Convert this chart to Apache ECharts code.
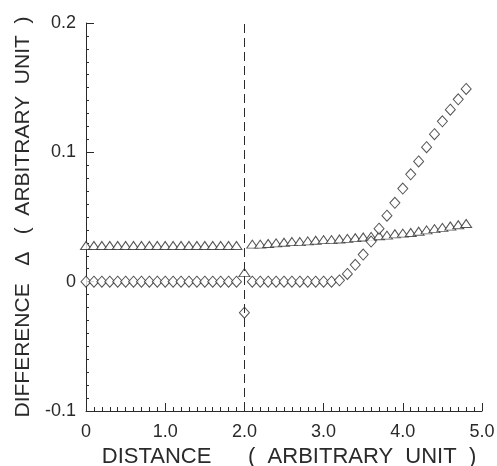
<!DOCTYPE html>
<html><head><meta charset="utf-8">
<script src="https://cdn.jsdelivr.net/npm/echarts@6/dist/echarts.min.js"></script>
<style>html,body{margin:0;padding:0;background:#fff}#c{width:497px;height:466px}</style>
</head><body><div id="c"></div>
<script>
const distance = [0,0.1,0.2,0.3,0.4,0.5,0.6,0.7,0.8,0.9,1.0,1.1,1.2,1.3,1.4,1.5,1.6,1.7,1.8,1.9,2.0,2.1,2.2,2.3,2.4,2.5,2.6,2.7,2.8,2.9,3.0,3.1,3.2,3.3,3.4,3.5,3.6,3.7,3.8,3.9,4.0,4.1,4.2,4.3,4.4,4.5,4.6,4.7,4.8];
const triangleValues = [0.028,0.028,0.028,0.028,0.028,0.028,0.028,0.028,0.028,0.028,0.028,0.028,0.028,0.028,0.028,0.028,0.028,0.028,0.028,0.028,
  0.007,
  0.029,0.029,0.0295,0.030,0.0305,0.031,0.031,0.0315,0.032,0.0325,0.0325,0.033,0.0335,0.034,0.0345,0.035,0.0355,0.036,0.037,0.0375,0.038,0.039,0.040,0.041,0.042,0.043,0.044,0.045];
const diamondValues = [0,0,0,0,0,0,0,0,0,0,0,0,0,0,0,0,0,0,0,0,
  -0.024,
  0,0,0,0,0,0,0,0,0,0,0,
  0.001,0.006,0.013,0.021,0.031,0.041,0.051,0.061,0.072,0.083,0.093,0.104,0.114,0.124,0.133,0.141,0.149];
const xTickLabels = {0:'0',1:'1.0',2:'2.0',3:'3.0',4:'4.0',5:'5.0'};
const yTickLabels = {'0.2':'0.2','0.1':'0.1','0':'0','-0.1':'-0.1'};
const dividerX = 2.0;

const font = 'Liberation Sans';
const ink = '#2a2a2a';
const chart = echarts.init(document.getElementById('c'));
chart.setOption({
  animation: false,
  backgroundColor: '#fff',
  grid: {left: 86, right: 15, top: 23, bottom: 55, outerBoundsMode: 'none', containLabel: false},
  xAxis: {
    type: 'value', min: 0, max: 5, interval: 1,
    name: 'DISTANCE      (  ARBITRARY  UNIT  )', nameLocation: 'middle', nameGap: 34,
    nameTextStyle: {fontFamily: font, fontSize: 22, color: ink, padding: [0, 0, 0, 10]},
    axisLine: {show: true, onZero: false, lineStyle: {color: ink, width: 1}},
    axisTick: {show: true, inside: true, length: 8, lineStyle: {color: ink}},
    minorTick: {show: true, splitNumber: 10, length: 4, lineStyle: {color: ink}},
    splitLine: {show: false},
    axisLabel: {fontFamily: font, fontSize: 18, color: ink, margin: 12,
      formatter: v => xTickLabels[Math.round(v)] ?? ''}
  },
  yAxis: {
    type: 'value', min: -0.1, max: 0.2, interval: 0.1,
    name: 'DIFFERENCE   Δ   (  ARBITRARY  UNIT  )', nameLocation: 'middle', nameGap: 52, nameRotate: 90,
    nameTextStyle: {fontFamily: font, fontSize: 21, color: ink},
    axisLine: {show: true, onZero: false, lineStyle: {color: ink, width: 1}},
    axisTick: {show: true, inside: true, length: 8, lineStyle: {color: ink}},
    minorTick: {show: true, splitNumber: 10, length: 3, lineStyle: {color: ink}},
    splitLine: {show: false},
    axisLabel: {fontFamily: font, fontSize: 18, color: ink, margin: 10,
      formatter: v => yTickLabels[String(Math.round(v*10)/10)] ?? ''}
  },
  series: [
    {
      type: 'scatter', name: 'triangle',
      data: distance.map((d, i) => [d, triangleValues[i]]),
      symbol: 'triangle', symbolSize: [11, 8],
      itemStyle: {color: '#fff', borderColor: ink, borderWidth: 1},
      markLine: {
        silent: true, symbol: 'none', label: {show: false},
        lineStyle: {color: ink, type: [9, 5], width: 1},
        data: [{xAxis: dividerX}]
      }
    },
    {
      type: 'scatter', name: 'diamond',
      data: distance.map((d, i) => [d, diamondValues[i]]),
      symbol: 'diamond', symbolSize: [10, 11],
      itemStyle: {color: '#fff', borderColor: ink, borderWidth: 1}
    }
  ]
});
</script></body></html>
